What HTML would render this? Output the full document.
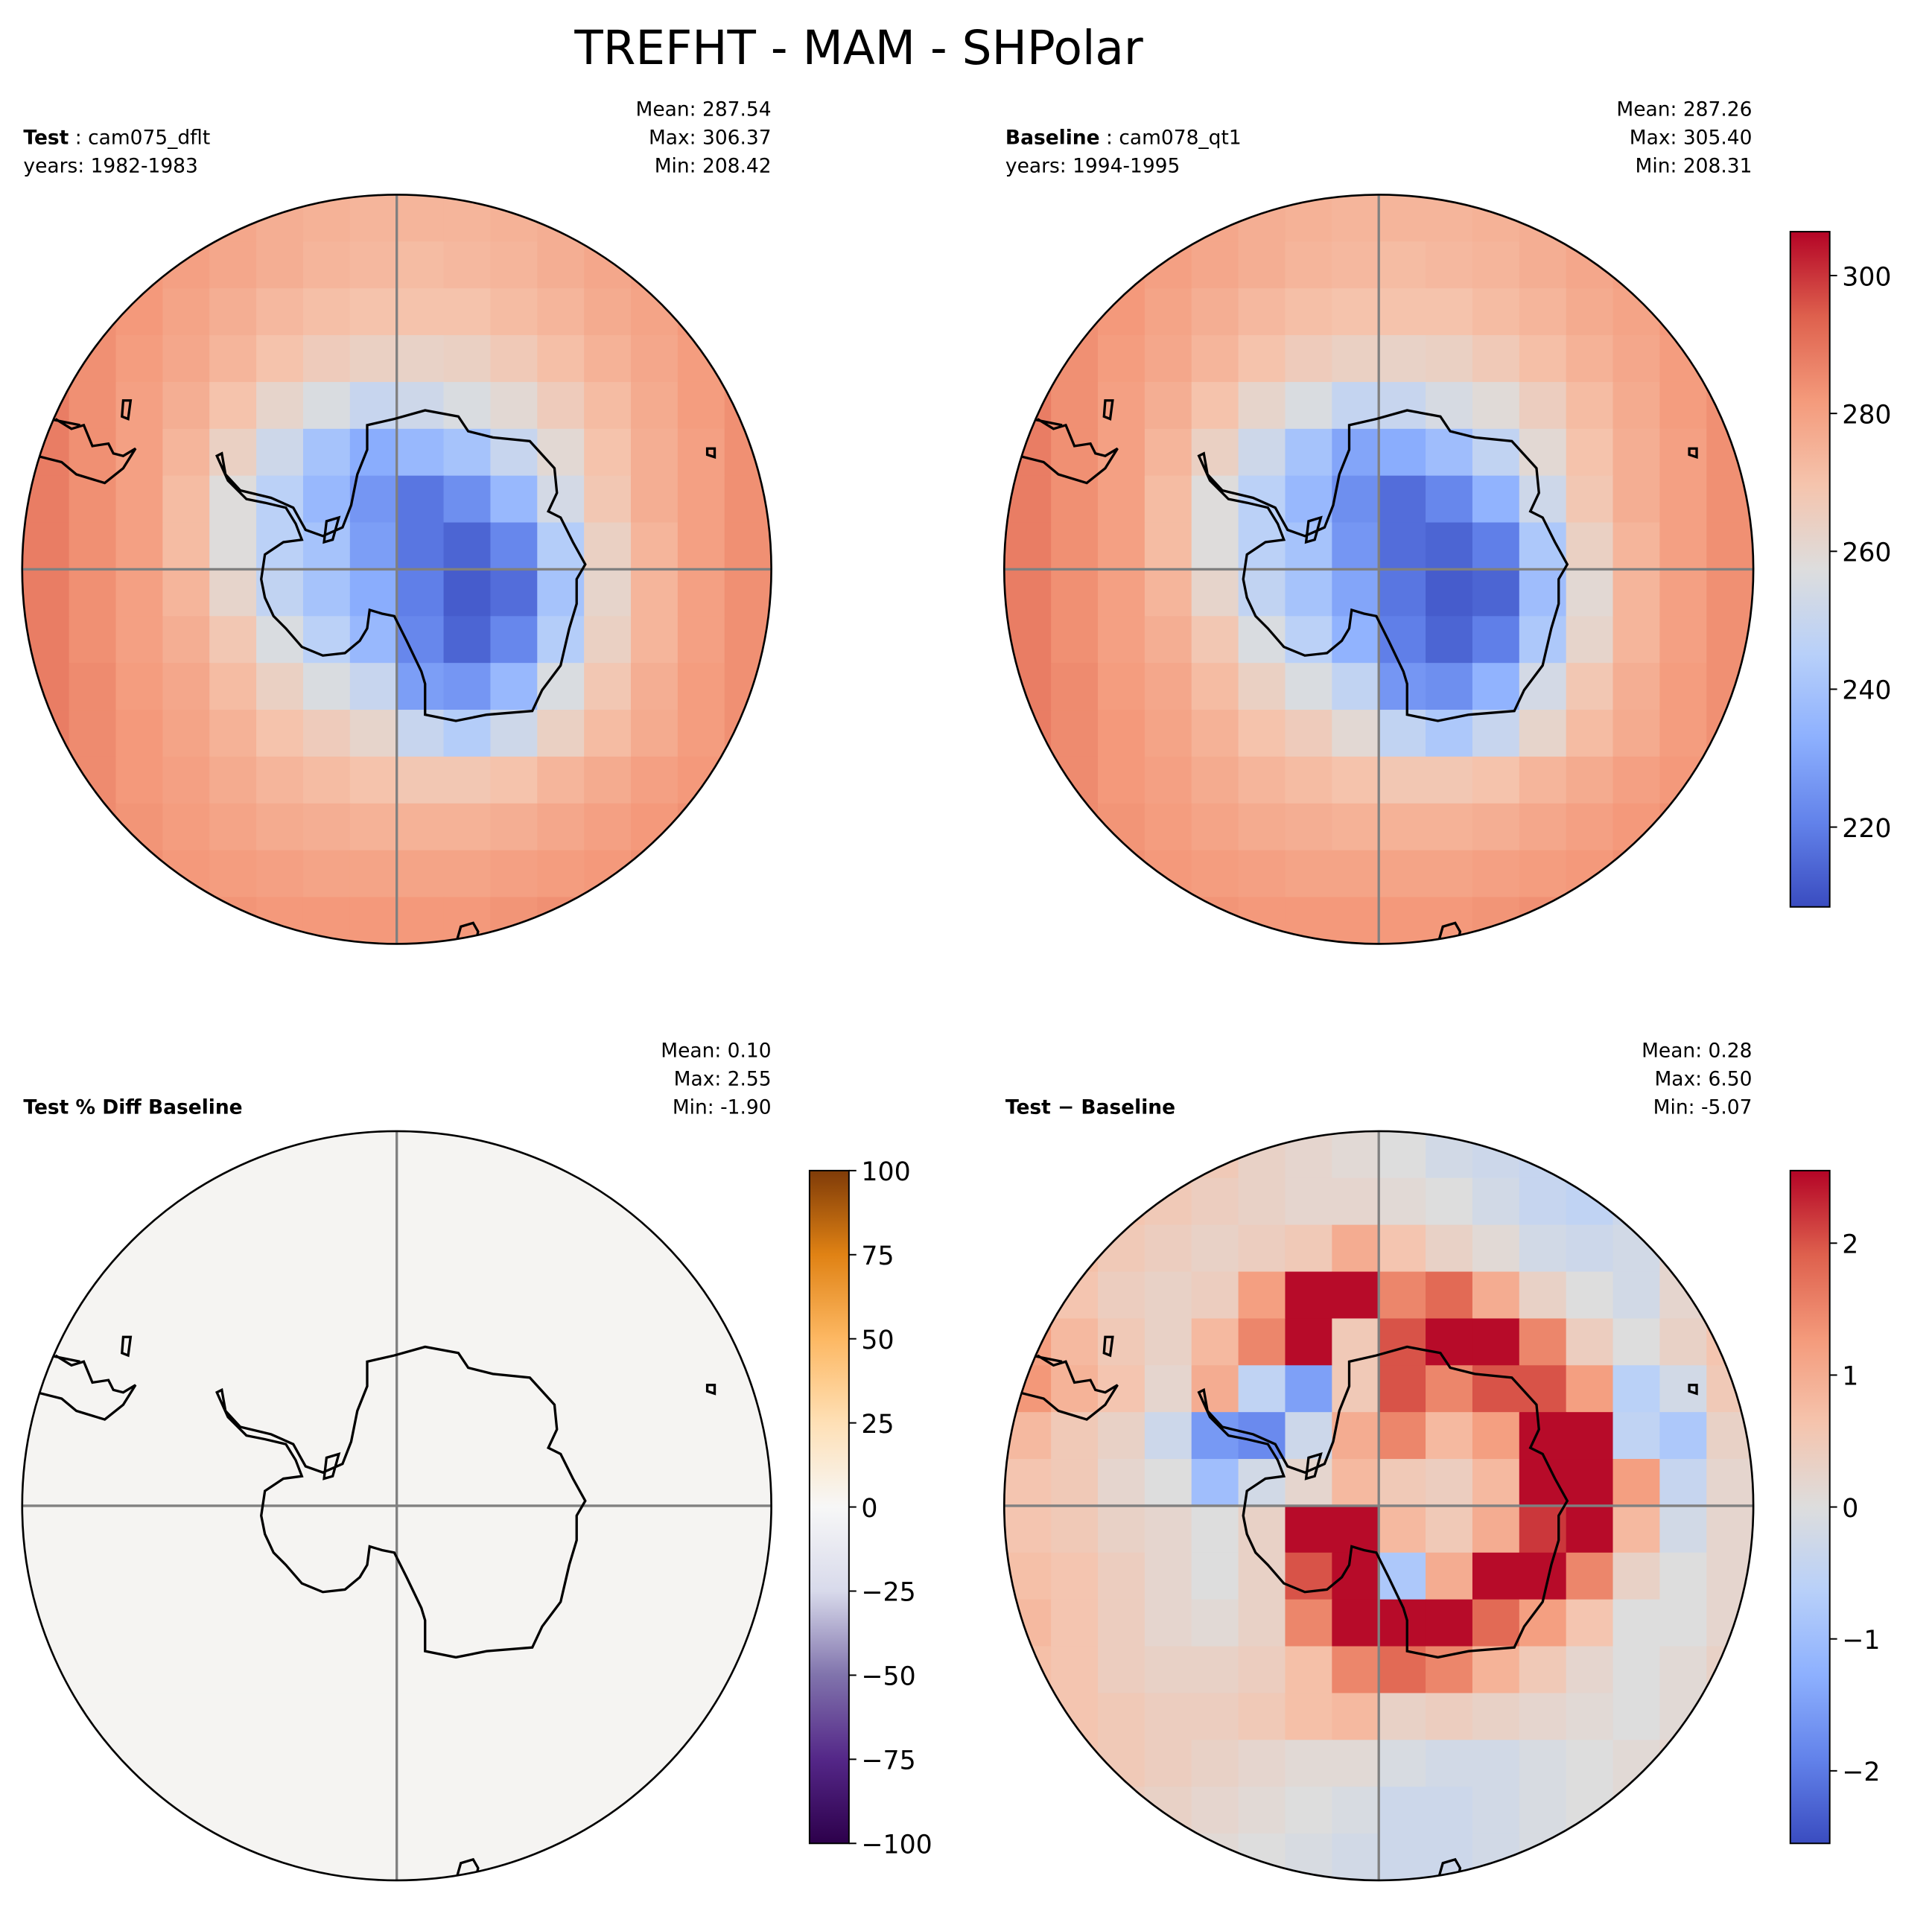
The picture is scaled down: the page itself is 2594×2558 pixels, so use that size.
<!DOCTYPE html>
<html><head><meta charset="utf-8"><style>
html,body{margin:0;padding:0;background:#fff}
svg{display:block}
text{font-family:"DejaVu Sans","Liberation Sans",sans-serif}
</style></head><body>
<svg id="fig" width="2594" height="2558" viewBox="0 0 1568 1546" preserveAspectRatio="none" xmlns="http://www.w3.org/2000/svg">
<defs>
<clipPath id="c1"><circle cx="322" cy="462" r="304"/></clipPath>
<clipPath id="c2"><circle cx="1119" cy="462" r="304"/></clipPath>
<clipPath id="c3"><circle cx="322" cy="1222" r="304"/></clipPath>
<clipPath id="c4"><circle cx="1119" cy="1222" r="304"/></clipPath>
<linearGradient id="gcw" x1="0" y1="1" x2="0" y2="0">
<stop offset="0" stop-color="rgb(58,76,192)"/><stop offset="0.125" stop-color="rgb(98,130,234)"/><stop offset="0.25" stop-color="rgb(141,176,254)"/><stop offset="0.375" stop-color="rgb(184,208,249)"/><stop offset="0.5" stop-color="rgb(221,221,221)"/><stop offset="0.625" stop-color="rgb(245,196,173)"/><stop offset="0.75" stop-color="rgb(244,154,123)"/><stop offset="0.875" stop-color="rgb(222,96,77)"/><stop offset="1" stop-color="rgb(180,4,38)"/>
</linearGradient>
<linearGradient id="gpo" x1="0" y1="1" x2="0" y2="0">
<stop offset="0" stop-color="#2d004b"/><stop offset="0.125" stop-color="#542788"/><stop offset="0.25" stop-color="#8073ac"/><stop offset="0.375" stop-color="#d8daeb"/><stop offset="0.5" stop-color="#f7f7f7"/><stop offset="0.625" stop-color="#fee0b6"/><stop offset="0.75" stop-color="#fdb863"/><stop offset="0.875" stop-color="#e08214"/><stop offset="1" stop-color="#7f3b08"/>
</linearGradient>
</defs>
<text x="697" y="52" font-size="38" text-anchor="middle">TREFHT - MAM - SHPolar</text>
<g id="panels"></g>
</svg>
<script>
const testT = [
[284,284,282,280,278,276,275,274,274,274,275,276,278,280,282,284],
[285,284,282,280,278,276,274,273,272,273,274,276,278,280,282,284],
[286,284,282,279,276,273,271,270,270,270,272,274,277,279,282,284],
[287,284,281,278,274,270,266,264,263,264,267,271,275,278,281,284],
[288,284,280,276,270,262,256,250,252,256,260,266,272,277,281,284],
[288,284,280,274,264,252,240,232,236,240,250,260,270,276,280,284],
[288,284,280,272,258,246,236,226,218,224,236,254,268,276,280,284],
[288,284,280,272,258,246,240,228,218,214,222,244,264,274,280,284],
[288,284,280,274,262,248,240,232,220,212,216,240,262,274,280,284],
[288,284,280,276,268,256,246,236,222,214,222,244,264,274,280,284],
[288,285,281,278,272,264,256,250,228,226,236,256,268,276,281,284],
[288,285,282,279,275,270,266,262,250,244,252,264,272,277,281,284],
[288,285,282,280,277,274,272,270,268,268,270,274,277,280,282,285],
[288,285,283,281,279,277,276,275,275,275,276,278,280,282,284,286],
[288,286,284,282,281,280,279,279,279,279,280,281,282,284,285,286],
[288,286,285,284,283,282,282,282,282,282,283,284,285,286,286,287]];
const baseT = [
[284,284,282,280,278,276,275,274,274,274,275,276,278,280,282,284],
[285,284,282,280,278,276,274,273,272,273,274,276,278,280,282,284],
[286,284,282,279,276,273,271,270,270,270,272,274,277,279,282,284],
[287,284,281,278,274,270,266,264,263,264,267,271,275,278,281,284],
[288,284,280,276,270,262,256,249,250,255,259,265,272,277,281,284],
[288,284,280,274,264,252,240,230,232,238,248,260,270,276,280,284],
[288,284,280,272,258,246,236,224,216,222,234,252,268,276,280,284],
[288,284,280,272,258,246,240,226,216,214,220,242,264,274,280,284],
[288,284,280,274,262,248,240,230,218,212,214,238,260,274,280,284],
[288,284,280,276,268,256,246,234,220,214,220,242,262,274,280,284],
[288,285,281,278,272,264,256,248,226,224,234,254,268,276,281,284],
[288,285,282,279,275,270,266,260,248,242,250,262,272,277,281,284],
[288,285,282,280,277,274,272,270,268,268,270,274,277,280,282,285],
[288,285,283,281,279,277,276,275,275,275,276,278,280,282,284,286],
[288,286,284,282,281,280,279,279,279,279,280,281,282,284,285,286],
[288,286,285,284,283,282,282,282,282,282,283,284,285,286,286,287]];
const diffT = [
[0.6,0.6,0.5,0.4,0.5,0.3,0.2,0.1,0.0,-0.2,-0.3,-0.4,-0.3,-0.2,0,0.3],
[0.8,0.8,0.6,0.5,0.4,0.3,0.2,0.2,0.1,0.0,-0.2,-0.4,-0.5,-0.3,0,0.3],
[0.9,0.7,0.5,0.4,0.3,0.4,0.5,1.0,0.6,0.3,0.1,-0.2,-0.3,-0.2,0.2,0.4],
[0.9,0.6,0.4,0.3,0.4,1.2,2.5,2.5,1.5,1.8,1.0,0.3,0.0,-0.2,0.2,0.5],
[1.2,0.8,0.5,0.3,0.8,1.5,2.5,0.5,2.0,2.5,2.5,1.5,0.4,0.0,0.3,0.6],
[1.3,0.9,0.6,0.2,1.0,-0.5,-1.5,0.5,2.0,1.5,2.0,2.0,1.2,-0.6,-0.2,0.5],
[0.8,0.5,0.3,-0.3,-1.6,-1.8,-0.3,1.0,1.5,0.8,1.2,2.5,2.5,-0.5,-0.8,0.3],
[0.6,0.5,0.2,0.0,-1.0,-0.2,0.2,0.8,0.5,0.4,0.8,2.5,2.5,1.2,-0.4,0.2],
[0.6,0.5,0.3,0.2,0.0,0.3,2.5,2.5,0.8,0.5,1.0,2.2,2.5,0.8,-0.2,0.2],
[0.7,0.6,0.4,0.2,0.0,0.3,2.0,2.5,-0.8,1.0,2.5,2.5,1.5,0.3,0.0,0.2],
[0.8,0.6,0.4,0.2,0.1,0.3,1.5,2.5,2.5,2.5,1.8,1.2,0.6,0.0,0.0,0.2],
[0.7,0.6,0.4,0.3,0.3,0.4,0.7,1.5,1.8,1.5,0.9,0.5,0.2,0.0,0.1,0.3],
[0.6,0.6,0.5,0.4,0.4,0.5,0.7,0.8,0.3,0.4,0.3,0.2,0.1,0.0,0.1,0.3],
[0.6,0.6,0.5,0.4,0.3,0.2,0.1,0.1,-0.1,-0.2,-0.2,-0.1,0.0,0.1,0.2,0.3],
[0.5,0.5,0.4,0.3,0.2,0.1,0.0,-0.1,-0.3,-0.3,-0.2,-0.1,0.0,0.1,0.2,0.3],
[0.5,0.4,0.3,0.2,0.1,0.0,-0.1,-0.2,-0.3,-0.3,-0.2,-0.1,0.0,0.1,0.2,0.3]];
const tempTicks = [220,240,260,280,300];
const pctTicks = [-100,-75,-50,-25,0,25,50,75,100];
const diffTicks = [-2,-1,0,1,2];
const tempRange = [208.42,306.37];
const pctRange = [-100,100];
const diffRange = [-2.55,2.55];

const NS='http://www.w3.org/2000/svg';
const root=document.getElementById('panels');
function mk(tag,attrs,parent){const e=document.createElementNS(NS,tag);for(const k in attrs)e.setAttribute(k,attrs[k]);(parent||root).appendChild(e);return e;}
const cw=[[0,58,76,192],[.125,98,130,234],[.25,141,176,254],[.375,184,208,249],[.5,221,221,221],[.625,245,196,173],[.75,244,154,123],[.875,222,96,77],[1,180,4,38]];
function cmap(t){t=Math.max(0,Math.min(1,t));for(let i=1;i<cw.length;i++){if(t<=cw[i][0]){const a=cw[i-1],b=cw[i],f=(t-a[0])/(b[0]-a[0]);return 'rgb('+[1,2,3].map(k=>Math.round(a[k]+f*(b[k]-a[k]))).join(',')+')';}}return 'rgb(180,4,38)';}
const ant="M298,345 L320,340 L345,333 L372,338 L380,350 L400,355 L430,358 L450,380 L452,400 L445,415 L455,420 L465,440 L475,458 L468,470 L468,490 L462,510 L455,540 L440,560 L432,577 L395,580 L370,585 L345,580 L345,555 L342,545 L330,520 L320,500 L310,498 L300,495 L298,510 L292,520 L280,530 L262,532 L245,525 L232,510 L222,500 L215,485 L212,470 L215,450 L230,440 L245,438 L240,425 L232,412 L215,408 L200,405 L185,390 L176,370 L180,368 L183,385 L195,398 L220,404 L238,412 L248,430 L262,435 L278,428 L285,410 L290,385 L298,365 Z M65,345 L40,340 M30,370 L50,375 L62,385 L85,392 L100,380 L110,364 L100,370 L92,368 L88,360 L75,362 L68,345 L58,348 L45,340 M100,325 L106,325 L104,340 L99,338 Z M574,364 L580,364 L580,371 L574,369 Z M370,766 L374,752 L384,749 L388,756 L386,766 M265,423 L275,420 L270,438 L263,440 Z";
function panel(idx,cx,cy,grid,cfn,n){
  const g=mk('g',{'clip-path':'url(#c'+idx+')'});
  
  
  const x0=cx-304,y0=cy-304,s=608/n;
  for(let j=0;j<n;j++)for(let i=0;i<n;i++){
    const r=mk('rect',{x:x0+i*s,y:y0+j*s,width:s+0.6,height:s+0.6,fill:cfn(grid?grid[j][i]:0)},g);
    
    
  }
  const l1=mk('line',{x1:x0,y1:cy,x2:cx+304,y2:cy,stroke:'#808080','stroke-width':2},g);
  
  
  const l2=mk('line',{x1:cx,y1:y0,x2:cx,y2:cy+304,stroke:'#808080','stroke-width':2},g);
  
  
  const p=mk('path',{d:ant,fill:'none',stroke:'#000','stroke-width':2,transform:'translate('+(cx-322)+','+(cy-462)+')'},g);
  
  
  const c=mk('circle',{cx:cx,cy:cy,r:304,fill:'none',stroke:'#000','stroke-width':1.6});
  
  
}
const tf=v=>cmap((v-tempRange[0])/(tempRange[1]-tempRange[0]));
const df=v=>cmap((v-diffRange[0])/(diffRange[1]-diffRange[0]));
panel(1,322,462,testT,tf,16);
panel(2,1119,462,baseT,tf,16);
panel(3,322,1222,null,()=> '#f5f4f2',16);
panel(4,1119,1222,diffT,df,16);
function cbar(x,y0,y1,grad,ticks,range,name){
  const r=mk('rect',{x:x,y:y0,width:32,height:y1-y0,fill:'url(#'+grad+')',stroke:'#000','stroke-width':1.2});
  
  
  ticks.forEach(t=>{
    const y=y1-(t-range[0])/(range[1]-range[0])*(y1-y0);
    const tk=mk('line',{x1:x+32,y1:y,x2:x+38,y2:y,stroke:'#000','stroke-width':1.2});
    
    
    const tx=mk('text',{x:x+42,y:y+8,'font-size':21});
    tx.textContent=(t<0?'\u2212'+(-t):String(t));
    
    
  });
}
cbar(1453,188,736,'gcw',tempTicks,tempRange,'temperature-colorbar');
cbar(657,950,1496,'gpo',pctTicks,pctRange,'percent-diff-colorbar');
cbar(1453,950,1496,'gcw',diffTicks,diffRange,'difference-colorbar');
function txt(x,y,s,anchor,name,bold){const t=mk('text',{x:x,y:y,'font-size':16,'text-anchor':anchor||'start'});if(bold)t.setAttribute('font-weight','bold');t.innerHTML=s;return t;}
txt(19,117,'<tspan font-weight="bold">Test</tspan> : cam075_dflt','start','test-title');
txt(19,140,'years: 1982-1983','start','test-years');
txt(626,94,'Mean: 287.54','end','test-mean');
txt(626,117,'Max: 306.37','end','test-max');
txt(626,140,'Min: 208.42','end','test-min');
txt(816,117,'<tspan font-weight="bold">Baseline</tspan> : cam078_qt1','start','baseline-title');
txt(816,140,'years: 1994-1995','start','baseline-years');
txt(1422,94,'Mean: 287.26','end','baseline-mean');
txt(1422,117,'Max: 305.40','end','baseline-max');
txt(1422,140,'Min: 208.31','end','baseline-min');
txt(19,904,'Test % Diff Baseline','start','pctdiff-title',true);
txt(626,858,'Mean:  0.10','end','pctdiff-mean');
txt(626,881,'Max:  2.55','end','pctdiff-max');
txt(626,904,'Min: -1.90','end','pctdiff-min');
txt(816,904,'Test \u2212 Baseline','start','diff-title',true);
txt(1422,858,'Mean:  0.28','end','diff-mean');
txt(1422,881,'Max:  6.50','end','diff-max');
txt(1422,904,'Min: -5.07','end','diff-min');
</script>
</body></html>
